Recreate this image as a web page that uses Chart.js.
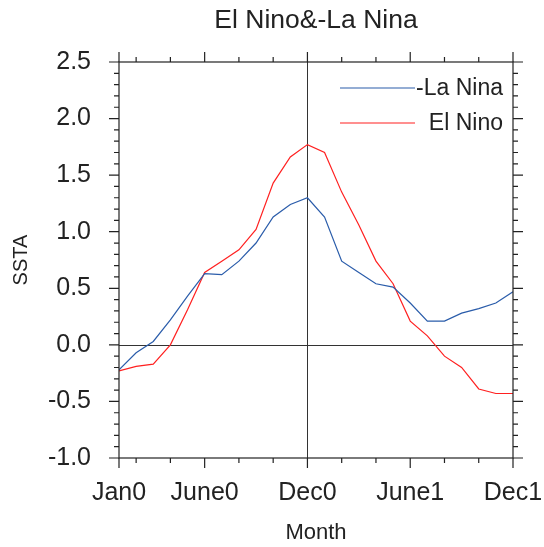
<!DOCTYPE html>
<html>
<head>
<meta charset="utf-8">
<script src="https://cdn.jsdelivr.net/npm/chart.js@4.4.0/dist/chart.umd.min.js"></script>
<style>
  body { margin: 0; background: #fff; }
  canvas { display: block; }
</style>
</head>
<body>
<canvas id="chart" width="544" height="547"></canvas>
<script>
// Data (SSTA composites, months Jan0 .. Dec1)
const months = [0,1,2,3,4,5,6,7,8,9,10,11,12,13,14,15,16,17,18,19,20,21,22,23];
const laNina = [-0.22,-0.07,0.03,0.22,0.43,0.63,0.62,0.74,0.90,1.13,1.24,1.30,
                1.13,0.74,0.64,0.54,0.51,0.37,0.21,0.21,0.28,0.32,0.37,0.47];
const elNino = [-0.23,-0.19,-0.17,0.00,0.31,0.64,0.74,0.84,1.02,1.43,1.66,1.77,
                1.70,1.35,1.06,0.74,0.54,0.21,0.08,-0.10,-0.20,-0.39,-0.43,-0.43];
const tickMonths = [0, 5, 11, 17, 23];
const tickLabels = ['Jan0', 'June0', 'Dec0', 'June1', 'Dec1'];
const seriesNames = ['-La Nina', 'El Nino'];
const seriesColors = ['#2a5caa', '#ff2020'];

const FONT = '"Liberation Sans", Arial, Helvetica, sans-serif';
const INK = '#222';

// axis frame, outward ticks, reference lines, title and legend
const framePlugin = {
    id: 'frame',
    beforeDatasetsDraw(chart) {
        const { ctx, chartArea: a, scales: { x, y } } = chart;
        ctx.save();
        ctx.strokeStyle = '#333';
        ctx.lineWidth = 1;
        const xd = Math.round(x.getPixelForValue(11)) + 0.5;
        const y0 = Math.round(y.getPixelForValue(0)) + 0.5;
        ctx.beginPath();
        ctx.moveTo(xd, a.top); ctx.lineTo(xd, a.bottom);
        ctx.moveTo(a.left, y0); ctx.lineTo(a.right, y0);
        ctx.stroke();
        ctx.restore();
    },
    afterDraw(chart) {
        const { ctx, chartArea: a, scales: { x, y } } = chart;
        ctx.save();
        ctx.strokeStyle = INK;
        ctx.lineWidth = 1.2;
        ctx.strokeRect(a.left, a.top, a.right - a.left, a.bottom - a.top);

        ctx.beginPath();
        // x ticks: odd months minor, labelled months major
        for (let m = 0; m <= 23; m++) {
            const major = tickMonths.includes(m);
            if (!major && m % 2 === 0) continue;
            const len = major ? 10 : 5;
            const px = x.getPixelForValue(m);
            ctx.moveTo(px, a.bottom); ctx.lineTo(px, a.bottom + len);
            ctx.moveTo(px, a.top); ctx.lineTo(px, a.top - len);
        }
        // y ticks every 0.1, major every 0.5
        for (let i = -10; i <= 25; i++) {
            const len = i % 5 === 0 ? 10 : 5;
            const py = y.getPixelForValue(i / 10);
            ctx.moveTo(a.left, py); ctx.lineTo(a.left - len, py);
            ctx.moveTo(a.right, py); ctx.lineTo(a.right + len, py);
        }
        ctx.stroke();

        // title
        ctx.fillStyle = INK;
        ctx.font = '26.5px ' + FONT;
        ctx.textAlign = 'center';
        ctx.textBaseline = 'middle';
        ctx.fillText('El Nino&-La Nina', (a.left + a.right) / 2, 21);

        // legend
        ctx.font = '23px ' + FONT;
        ctx.textAlign = 'right';
        ctx.lineWidth = 1.2;
        seriesNames.forEach((name, i) => {
            const ly = a.top + 26 + i * 35;
            ctx.strokeStyle = seriesColors[i];
            ctx.beginPath();
            ctx.moveTo(a.right - 173, ly); ctx.lineTo(a.right - 98, ly);
            ctx.stroke();
            ctx.fillText(name, a.right - 10, ly + 1);
        });
        ctx.restore();
    }
};

const ctx = document.getElementById('chart').getContext('2d');
const chart = new Chart(ctx, {
    type: 'line',
    data: {
        datasets: [laNina, elNino].map((vals, i) => ({
            label: seriesNames[i],
            data: months.map((m, j) => ({ x: m, y: vals[j] })),
            borderColor: seriesColors[i],
            borderWidth: 1.2,
            pointRadius: 0,
            tension: 0,
            fill: false
        }))
    },
    options: {
        responsive: false,
        devicePixelRatio: 1,
        animation: false,
        layout: { padding: { top: 62, right: 31, left: 0, bottom: 0 } },
        plugins: {
            legend: { display: false },
            title: { display: false },
            tooltip: { enabled: false }
        },
        scales: {
            x: {
                type: 'linear',
                min: 0,
                max: 23,
                grid: { display: false, drawTicks: false },
                border: { display: false },
                afterBuildTicks(scale) {
                    scale.ticks = tickMonths.map(v => ({ value: v }));
                },
                afterFit(scale) {
                    scale.height = 89;
                    scale.paddingLeft = 0;
                    scale.paddingRight = 0;
                },
                ticks: {
                    autoSkip: false,
                    maxRotation: 0,
                    padding: 20,
                    color: INK,
                    font: { family: FONT, size: 25 },
                    callback: v => tickLabels[tickMonths.indexOf(v)]
                },
                title: {
                    display: true,
                    text: 'Month',
                    color: INK,
                    font: { family: FONT, size: 22 },
                    padding: { top: 0, bottom: 1 }
                }
            },
            y: {
                min: -1,
                max: 2.5,
                grid: { display: false, drawTicks: false },
                border: { display: false },
                afterFit(scale) {
                    scale.width = 119;
                    scale.paddingTop = 0;
                    scale.paddingBottom = 0;
                },
                ticks: {
                    stepSize: 0.5,
                    padding: 28,
                    color: INK,
                    font: { family: FONT, size: 25 },
                    callback: v => v.toFixed(1)
                },
                title: {
                    display: true,
                    text: 'SSTA',
                    color: INK,
                    font: { family: FONT, size: 20 },
                    padding: { top: 9, bottom: 0 }
                }
            }
        }
    },
    plugins: [framePlugin]
});
</script>
</body>
</html>
